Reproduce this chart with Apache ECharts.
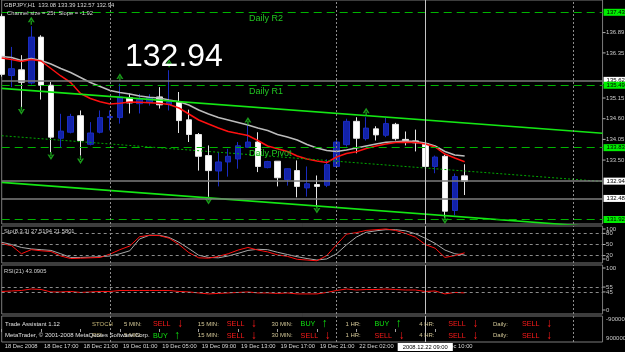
<!DOCTYPE html>
<html><head><meta charset="utf-8">
<script src="https://cdn.jsdelivr.net/npm/echarts/dist/echarts.min.js"></script>
<style>html,body{margin:0;padding:0;background:#000;}#c{width:625px;height:352px;}</style>
</head><body><div id="c"></div>
<script>
// ---------------- DATA ----------------
const symbolName = 'GBPJPY,H1';
const categories = [
 '2008.12.18 13:00','2008.12.18 14:00','2008.12.18 15:00','2008.12.18 16:00','2008.12.18 17:00','2008.12.18 18:00',
 '2008.12.18 19:00','2008.12.18 20:00','2008.12.18 21:00','2008.12.18 22:00','2008.12.18 23:00',
 '2008.12.19 00:00','2008.12.19 01:00','2008.12.19 02:00','2008.12.19 03:00','2008.12.19 04:00','2008.12.19 05:00',
 '2008.12.19 06:00','2008.12.19 07:00','2008.12.19 08:00','2008.12.19 09:00','2008.12.19 10:00','2008.12.19 11:00',
 '2008.12.19 12:00','2008.12.19 13:00','2008.12.19 14:00','2008.12.19 15:00','2008.12.19 16:00','2008.12.19 17:00',
 '2008.12.19 18:00','2008.12.19 19:00','2008.12.19 20:00','2008.12.19 21:00','2008.12.19 22:00',
 '2008.12.22 00:00','2008.12.22 01:00','2008.12.22 02:00','2008.12.22 03:00','2008.12.22 04:00','2008.12.22 05:00',
 '2008.12.22 06:00','2008.12.22 07:00','2008.12.22 08:00','2008.12.22 09:00','2008.12.22 10:00','2008.12.22 11:00',
 '2008.12.22 12:00','2008.12.22 13:00','2008.12.22 14:00','2008.12.22 15:00','2008.12.22 16:00','2008.12.22 17:00',
 '2008.12.22 18:00','2008.12.22 19:00','2008.12.22 20:00','2008.12.22 21:00','2008.12.22 22:00','2008.12.22 23:00',
 '2008.12.23 00:00','2008.12.23 01:00','2008.12.23 02:00','2008.12.23 03:00'
];
const opens  = [137.32,135.75,135.90,135.55,136.77,135.49,134.08,134.24,134.68,133.92,134.24,134.63,134.63,135.16,135.00,135.03,135.18,134.98,135.04,134.57,134.18,133.62,133.21,133.45,133.53,133.84,133.98,133.30,133.47,132.98,133.22,132.76,132.85,132.83,133.33,133.91,134.53,134.07,134.33,134.16,134.45,134.05,134.01,133.94,133.33,133.60,132.16,133.08];
const closes = [135.78,135.93,135.57,136.77,135.49,134.11,134.27,134.66,134.02,134.22,134.63,134.66,135.18,135.02,135.11,135.16,134.97,135.05,134.55,134.18,133.60,133.22,133.45,133.60,133.88,133.98,133.33,133.46,133.03,133.27,132.80,132.87,132.80,133.38,133.98,134.53,134.08,134.35,134.17,134.47,134.07,134.02,133.96,133.33,133.58,132.14,133.06,132.94];
const lows   = [135.72,135.44,134.91,135.51,135.11,133.71,133.84,134.21,133.62,133.89,134.21,134.29,134.47,134.74,134.74,134.95,134.87,134.82,134.22,133.98,133.22,132.51,132.80,133.06,133.27,133.83,133.18,133.28,132.80,132.82,132.51,132.53,132.25,132.78,133.30,133.86,133.68,134.02,134.02,134.11,134.02,133.89,133.73,133.30,133.15,131.97,132.03,132.57];
const highs  = [137.38,136.51,136.29,137.06,136.82,135.58,134.73,134.73,134.82,134.51,134.82,134.82,135.53,135.27,135.26,135.25,135.44,135.89,135.31,134.84,134.22,133.89,133.71,133.80,133.98,134.42,134.24,133.48,133.47,133.28,133.49,133.33,133.09,133.52,134.07,134.60,134.64,134.64,134.40,134.62,134.49,134.26,134.31,133.98,133.62,133.64,133.14,133.39];
const maRed  = [136.214,136.175,136.121,136.175,136.135,135.935,135.736,135.563,135.270,135.137,135.052,134.991,135.010,135.044,135.036,135.026,135.012,134.978,134.885,134.725,134.566,134.459,134.353,134.260,134.206,134.153,134.020,133.874,133.802,133.728,133.608,133.528,133.475,133.435,133.581,133.674,133.722,133.807,133.874,133.927,133.967,133.972,133.967,133.927,133.848,133.661,133.555,133.456];
const maGray = [136.254,136.228,136.148,136.201,136.148,136.055,135.935,135.829,135.696,135.563,135.456,135.350,135.297,135.257,135.204,135.169,135.151,135.097,135.052,134.964,134.831,134.725,134.632,134.566,134.499,134.432,134.353,134.286,134.180,134.113,134.034,133.914,133.821,133.754,133.728,133.768,133.821,133.874,133.927,133.972,133.988,134.007,133.994,133.954,133.874,133.728,133.635,133.608];
const stochMain   = [52,47,25,36,33,31,19,12,13,14,15,24,36,46,71,75,74,67,50,28,14,13,18,25,35,42,35,30,22,18,10,8,6,20,50,78,82,88,90,92,88,80,70,50,40,15,20,27.5194];
const stochSignal = [56,50,42,38,36,34,25,15,15,16,17,19,25,33,65,75,75,69,56,39,21,15,14,19,26,34,37,36,29,23,17,12,8,11,25,49,70,83,87,90,90,87,79,67,53,35,25,21.5801];
const rsiValues   = [46,47,48,51,50,45,45,46,44,45,46,46,48,48,48,48,48,48,46,45,43,41,42,43,44,45,43,43,42,43,41,41,41,44,48,51,49,50,50,51,50,49,49,46,47,41,44,43.0905];
const upFractalIdx    = [3,12,17,25,37];
const upFractalPrice  = [137.206,135.701,136.074,134.539,134.786];
const downFractalIdx   = [2,5,8,21,32,45];
const downFractalPrice = [134.813,133.608,133.502,132.425,132.185,131.906];
const channelIdx   = [0,61];
const channelUpper = [135.406,134.212];
const channelMid   = [134.148,132.930];
const channelLower = [132.906,131.709];
const pivotNames  = ['Daily R2','Daily R1','Daily Pivot','Daily S1'];
const pivotValues = [137.43,135.49,133.83,131.92];
const grayLevels  = [135.62,132.94,132.48];
const priceTicks  = [136.89,136.35,135.15,134.60,134.05,133.50];
const stochTicks  = [100,80,50,20,0];
const stochLevels = [80,50,20];
const rsiTicks    = [100,55,45,0];
const rsiLevels   = [55,45];
const taTickLabels = ['-9000000','9000000'];
const separatorIdx = [11,34,58];
const crossIdx = 43;
const crossLabel = '2008.12.22 09:00';
const timeTickIdx = [0,4,8,12,16,20,24,28,32,36,40,44];
const timeTickLabels = ['18 Dec 2008','18 Dec 17:00','18 Dec 21:00','19 Dec 01:00','19 Dec 05:00','19 Dec 09:00','19 Dec 13:00','19 Dec 17:00','19 Dec 21:00','22 Dec 02:00','22 Dec 06:00','22 Dec 10:00'];
const channelText = 'Channel size = 25t  Slope = -1.92';
const taFrames = ['5 MIN:','15 MIN:','30 MIN:','1 HR:','4 HR:','Daily:'];
const taStoch  = ['SELL','SELL','BUY','BUY','SELL','SELL'];
const taRsi    = ['BUY','SELL','SELL','SELL','SELL','SELL'];

// ---------------- LAYOUT ----------------
const GL = 1.7, GW = 600.85;
const panels = [[0,224],[226,37],[265,49],[316,26]];
const yRanges = [[131.800,137.757],[0,100],[0,100],[-1,1]];
const FN = '"Liberation Sans Narrow","Liberation Sans",Arial,sans-serif';
const FW = '"Liberation Sans",Arial,sans-serif';

const chart = echarts.init(document.getElementById('c'), null, {renderer:'canvas', devicePixelRatio:1});

function vLines(){
  return separatorIdx.map(i=>({xAxis:i, lineStyle:{type:[2,2], color:'#8c8c8c', width:1}}))
    .concat([{xAxis:crossIdx, lineStyle:{type:'solid', color:'#c4c4c4', width:1}}]);
}
function ml(data){ return {silent:true, symbol:['none','none'], label:{show:false}, animation:false, data:data}; }

const candleData = opens.map((o,i)=>[o, closes[i], lows[i], highs[i]]);
const upPath = 'path://M5,0 L10,7 L7.5,7 L5,3.5 L2.5,7 L0,7 Z M4,5 L6,5 L6,10 L4,10 Z';
const dnPath = 'path://M5,10 L10,3 L7.5,3 L5,6.5 L2.5,3 L0,3 Z M4,5 L6,5 L6,0 L4,0 Z';

const option = {
  animation:false,
  backgroundColor:'#000000',
  grid: panels.map(p=>({left:GL, width:GW, top:p[0], height:p[1], show:true, borderColor:'#7a7a7a', borderWidth:1, backgroundColor:'transparent'})),
  xAxis: panels.map((p,i)=>({
    type:'category', gridIndex:i, data:categories, boundaryGap:false,
    axisLine:{show:false}, splitLine:{show:false},
    axisTick: i===3 ? {show:true, length:3, interval:(idx)=>timeTickIdx.indexOf(idx)>=0, lineStyle:{color:'#a0a0a0'}} : {show:false},
    axisLabel: i===3 ? {show:true, interval:(idx)=>timeTickIdx.indexOf(idx)>=0,
       formatter:(v,idx)=>timeTickLabels[timeTickIdx.indexOf(idx)],
       align:'left', margin:1, padding:[0,0,0,3], color:'#d8d8d8', fontSize:5.8, fontFamily:FN} : {show:false}
  })),
  yAxis: panels.map((p,i)=>({type:'value', gridIndex:i, min:yRanges[i][0], max:yRanges[i][1], show:false, splitLine:{show:false}})),
  series: [
    {type:'line', xAxisIndex:0, yAxisIndex:0, data:[], z:1,
      markLine: ml(pivotValues.map(v=>({yAxis:v, lineStyle:{color:'#00b400', type:[8,5], width:1}}))
        .concat(grayLevels.map(v=>({yAxis:v, lineStyle:{color:'#7c7c7c', type:'solid', width:1.5}})))
        .concat(vLines()))},
    {type:'candlestick', xAxisIndex:0, yAxisIndex:0, data:candleData, barWidth:6, z:2, clip:true,
      itemStyle:{color:'#1222a8', color0:'#ffffff', borderColor:'#1a2cc0', borderColor0:'#e6e6e6', borderWidth:1}},
    {type:'line', xAxisIndex:0, yAxisIndex:0, data:maGray, symbol:'none', z:3, lineStyle:{color:'#bcbcbc', width:1.5}},
    {type:'line', xAxisIndex:0, yAxisIndex:0, data:maRed, symbol:'none', z:3, lineStyle:{color:'#ff1010', width:1.5}},
    {type:'line', xAxisIndex:0, yAxisIndex:0, data:channelIdx.map((x,k)=>[x, channelUpper[k]]), symbol:'none', z:3, lineStyle:{color:'#14e614', width:1.6}},
    {type:'line', xAxisIndex:0, yAxisIndex:0, data:channelIdx.map((x,k)=>[x, channelMid[k]]), symbol:'none', z:3, lineStyle:{color:'#00a800', width:1, type:[2,2]}},
    {type:'line', xAxisIndex:0, yAxisIndex:0, data:channelIdx.map((x,k)=>[x, channelLower[k]]), symbol:'none', z:3, lineStyle:{color:'#14e614', width:1.6}},
    {type:'scatter', xAxisIndex:0, yAxisIndex:0, data:upFractalIdx.map((x,k)=>[x, upFractalPrice[k]]), symbol:upPath, symbolSize:[7,8], z:4,
      itemStyle:{color:'#20c020'}},
    {type:'scatter', xAxisIndex:0, yAxisIndex:0, data:downFractalIdx.map((x,k)=>[x, downFractalPrice[k]]), symbol:dnPath, symbolSize:[7,8], z:4,
      itemStyle:{color:'#20c020'}},
    {type:'line', xAxisIndex:1, yAxisIndex:1, data:[], z:1,
      markLine: ml(stochLevels.map(v=>({yAxis:v, lineStyle:{color:'#8c8c8c', type:[3,3], width:1}})).concat(vLines()))},
    {type:'line', xAxisIndex:1, yAxisIndex:1, data:stochSignal, symbol:'none', z:3, lineStyle:{color:'#a8a8a8', width:1}},
    {type:'line', xAxisIndex:1, yAxisIndex:1, data:stochMain, symbol:'none', z:3, lineStyle:{color:'#ff1010', width:1}},
    {type:'line', xAxisIndex:2, yAxisIndex:2, data:[], z:1,
      markLine: ml(rsiLevels.map(v=>({yAxis:v, lineStyle:{color:'#8c8c8c', type:[3,3], width:1}})).concat(vLines()))},
    {type:'line', xAxisIndex:2, yAxisIndex:2, data:rsiValues, symbol:'none', z:3, lineStyle:{color:'#ff1010', width:1}},
    {type:'line', xAxisIndex:3, yAxisIndex:3, data:[], z:1, markLine: ml(vLines())}
  ]
};
chart.setOption(option);

// ---------------- TEXT (graphic) ----------------
const py = (k,v)=>chart.convertToPixel({yAxisIndex:k}, v);
const px = (i)=>chart.convertToPixel({xAxisIndex:0}, i);
const G = [];
function T(x,y,text,fill,size,fam,extra){
  const st = Object.assign({text:text, x:0, y:0, fill:fill, font:size+'px '+(fam||FN), align:'left', verticalAlign:'middle', textAlign:'left', textVerticalAlign:'middle'}, extra||{});
  G.push({type:'text', x:x, y:y, z:100, silent:true, style:st});
}
const last = opens.length-1;
T(4, 5.5, symbolName+'  '+[opens[last],highs[last],lows[last],closes[last]].map(v=>v.toFixed(2)).join(' '), '#d8d8d8', 5.8);
T(7, 13.2, channelText, '#d8d8d8', 5.8);
T(125, 57.5, closes[last].toFixed(2), '#ffffff', 32, FW);
pivotNames.forEach((n,k)=>{ if(k<3) T(px(25)+1, py(0,pivotValues[k])+6, n, '#22c422', 9, FW); });
const RX = GL+GW;
priceTicks.forEach(v=>{ const y=py(0,v);
  G.push({type:'line', z:100, silent:true, shape:{x1:RX, y1:y, x2:RX+3, y2:y}, style:{stroke:'#b0b0b0', lineWidth:1}});
  T(RX+3.5, y, v.toFixed(2), '#c8c8c8', 6); });
grayLevels.forEach(v=>{ const y=py(0,v);
  T(RX+1, y, v.toFixed(2), '#000000', 6, FN, {backgroundColor:'#ffffff', padding:[1,3,0,3]}); });
pivotValues.forEach(v=>{ const y=py(0,v);
  T(RX+1, y, v.toFixed(2), '#000000', 6, FN, {backgroundColor:'#00ee00', padding:[1,3,0,3]}); });
function subLabels(k, vals, pTop, pH){
  vals.forEach(v=>{ let y=py(k,v); y=Math.max(pTop+3, Math.min(pTop+pH-4, y));
    G.push({type:'line', z:100, silent:true, shape:{x1:RX, y1:y, x2:RX+3, y2:y}, style:{stroke:'#b0b0b0', lineWidth:1}});
    T(RX+3.5, y, String(v), '#c8c8c8', 6); });
}
subLabels(1, stochTicks, panels[1][0], panels[1][1]);
subLabels(2, rsiTicks, panels[2][0], panels[2][1]);
T(RX+3.5, panels[3][0]+3.5, taTickLabels[0], '#c8c8c8', 6);
T(RX+3.5, panels[3][0]+panels[3][1]-4, taTickLabels[1], '#c8c8c8', 6);
T(4, panels[1][0]+5.5, 'Sto(8,3,3) '+stochMain[last].toFixed(4)+' '+stochSignal[last].toFixed(4), '#d0d0d0', 5.8);
T(4, panels[2][0]+6, 'RSI(21) '+rsiValues[last].toFixed(4), '#d0d0d0', 5.8);
const row1 = 324, row2 = 335.7, colX0 = 124, colDx = 73.8;
T(5, row1, 'Trade Assistant 1.12', '#e0e0e0', 6);
T(92, row1, 'STOCH', '#c8b878', 6);
T(92, row2, 'RSI', '#c8b878', 6);
function sig(x,y,s){
  const buy = s==='BUY';
  T(x+29, y, s, buy?'#10e010':'#ff1a1a', 7.2, FW);
  T(x+(buy?50:53), y, buy?'↑':'↓', buy?'#10e010':'#ff1a1a', 8, '"DejaVu Sans",sans-serif', {fontWeight:'bold'});
}
taFrames.forEach((f,k)=>{ const x = colX0+k*colDx;
  T(x, row1, f, '#d4c898', 6); T(x, row2, f, '#d4c898', 6);
  sig(x,row1,taStoch[k]); sig(x,row2,taRsi[k]); });
T(5, row2, 'MetaTrader, © 2001-2008 MetaQuotes Software Corp.', '#e0e0e0', 6);
T(px(crossIdx), 347, crossLabel, '#000000', 5.8, FN, {align:'center', textAlign:'center', backgroundColor:'#ffffff', padding:[1,5,1,5]});
chart.setOption({graphic: G});
</script></body></html>
